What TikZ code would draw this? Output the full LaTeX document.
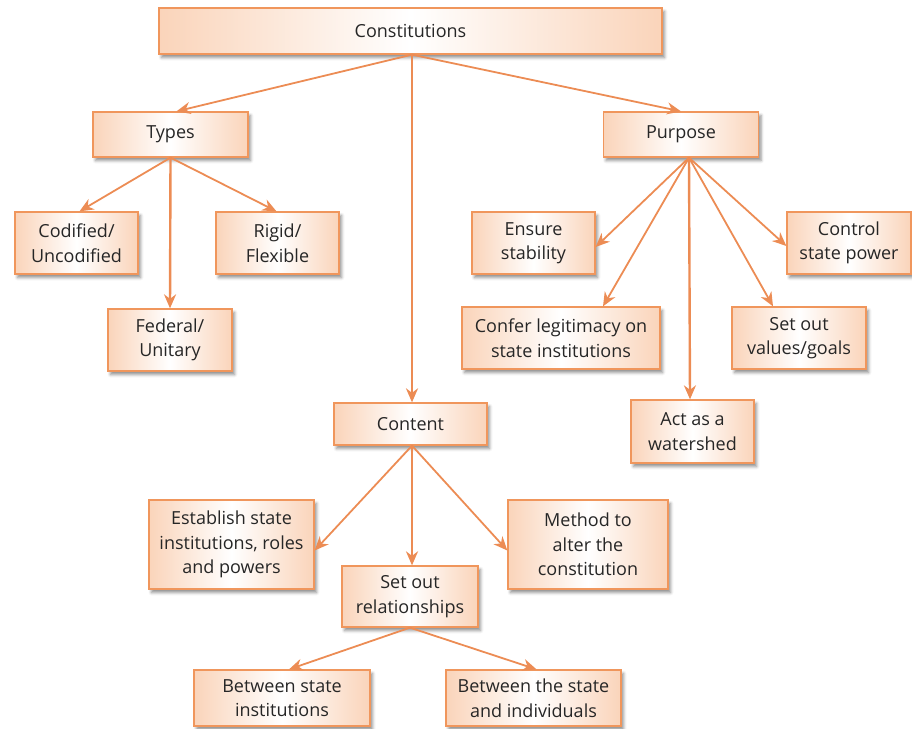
\documentclass[tikz,border=0pt]{standalone}
\usepackage{fontspec}
\setmainfont{Open Sans}
\usetikzlibrary{arrows.meta,shadows.blur}
\definecolor{peach}{RGB}{250,212,186}
\definecolor{boxline}{RGB}{240,150,92}
\definecolor{linkcol}{RGB}{236,140,84}
\tikzset{
  box/.style={draw=boxline, line width=1.3pt, left color=peach, right color=peach,
    middle color=white, align=center, inner sep=2pt,
    font=\fontsize{18}{24.5}\selectfont\color{black!85},
    blur shadow={shadow xshift=2.5pt, shadow yshift=-3.5pt, shadow blur radius=3pt, shadow opacity=45}},
  link/.style={draw=linkcol, line width=1.8pt, -{Stealth[length=14pt,width=12pt,inset=4.5pt]}},
  trunk/.style={link, line width=2.4pt}
}
\begin{document}
\begin{tikzpicture}[x=1pt,y=-1pt]
\useasboundingbox (0,0) rectangle (912,728);
% top level
\node[box, minimum width=503pt, minimum height=46pt] (const) at (410.5,31) {Constitutions};
% first branches
\node[box, minimum width=155pt, minimum height=45pt] (types) at (170.5,134.5) {Types};
\node[box, minimum width=155pt, minimum height=45pt] (purpose) at (681,134.5) {Purpose};
\node[box, minimum width=153pt, minimum height=42pt] (content) at (410.5,424) {Content};
% types
\node[box, minimum width=123pt, minimum height=62pt] (codified) at (76.5,243) {Codified/\\Uncodified};
\node[box, minimum width=123pt, minimum height=62pt] (rigid) at (277.5,243) {Rigid/\\Flexible};
\node[box, minimum width=124pt, minimum height=62pt] (federal) at (170,340) {Federal/\\Unitary};
% purpose
\node[box, minimum width=123pt, minimum height=62pt] (ensure) at (533.5,243) {Ensure\\stability};
\node[box, minimum width=124pt, minimum height=62pt] (control) at (849,243) {Control\\state power};
\node[box, minimum width=198pt, minimum height=62pt] (confer) at (561,338) {Confer legitimacy on\\state institutions};
\node[box, minimum width=134pt, minimum height=62pt] (values) at (799,338) {Set out\\values/goals};
\node[box, minimum width=123pt, minimum height=63pt] (watershed) at (692.5,431.5) {Act as a\\watershed};
% content
\node[box, minimum width=165pt, minimum height=89pt] (establish) at (231.5,544.5) {Establish state\\institutions, roles\\and powers};
\node[box, minimum width=160pt, minimum height=89pt] (method) at (588,544.5) {Method to\\alter the\\constitution};
\node[box, minimum width=136pt, minimum height=61pt] (relations) at (410,596.5) {Set out\\relationships};
\node[box, minimum width=176pt, minimum height=56pt] (betweeninst) at (282,698) {Between state\\institutions};
\node[box, minimum width=175pt, minimum height=56pt] (betweenind) at (533.5,698) {Between the state\\and individuals};
% fan-out points
\coordinate (cs) at ([xshift=1.5pt]const.south);
\coordinate (ps) at ([xshift=8pt]purpose.south);
\coordinate (ts) at (types.south);
\coordinate (ks) at ([xshift=1.5pt]content.south);
\coordinate (rs) at (relations.south);
% connectors
\draw[link] (cs) -- ([xshift=6pt]types.north);
\draw[link] (cs) -- (purpose.north);
\draw[trunk] (cs) -- ([xshift=1.5pt]content.north);
\draw[link] (ts) -- ([xshift=3pt]codified.north);
\draw[trunk] (ts) -- (federal.north);
\draw[link] (ts) -- ([xshift=-1pt]rigid.north);
\draw[link] (ps) -- ([yshift=-4pt]ensure.east);
\draw[link] (ps) -- ([xshift=42pt]confer.north);
\draw[trunk] (ps) -- ([xshift=-2.5pt]watershed.north);
\draw[link] (ps) -- ([xshift=-26pt]values.north);
\draw[link] (ps) -- ([yshift=-3pt]control.west);
\draw[link] (ks) -- ([yshift=-6pt]establish.east);
\draw[trunk] (ks) -- ([xshift=2pt]relations.north);
\draw[link] (ks) -- ([yshift=-6pt]method.west);
\draw[link] (rs) -- ([xshift=7pt]betweeninst.north);
\draw[link] (rs) -- ([xshift=3pt]betweenind.north);
\end{tikzpicture}
\end{document}
